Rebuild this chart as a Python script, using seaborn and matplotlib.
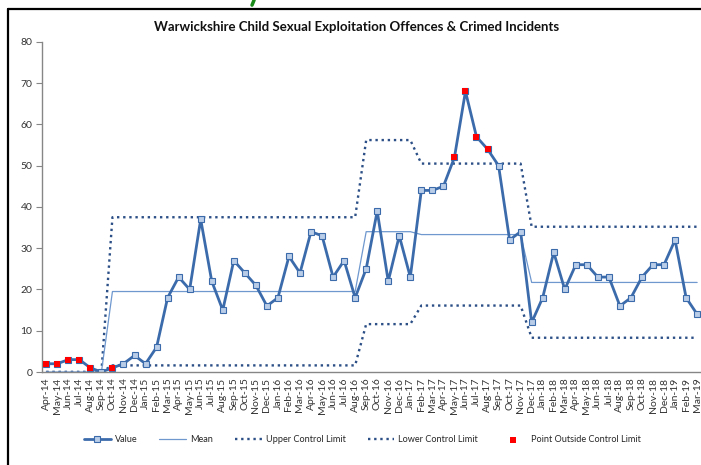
"""Warwickshire CSE offences - control chart."""

import matplotlib.pyplot as plt
import matplotlib.lines as mlines
import numpy as np
import pandas as pd
import seaborn as sns

sns.set_theme(style="white")
plt.rcParams["font.family"] = ["Lato", "Liberation Sans", "DejaVu Sans"]

MONTHS = ["Apr-14", "May-14", "Jun-14", "Jul-14", "Aug-14", "Sep-14",
          "Oct-14", "Nov-14", "Dec-14", "Jan-15", "Feb-15", "Mar-15",
          "Apr-15", "May-15", "Jun-15", "Jul-15", "Aug-15", "Sep-15",
          "Oct-15", "Nov-15", "Dec-15", "Jan-16", "Feb-16", "Mar-16",
          "Apr-16", "May-16", "Jun-16", "Jul-16", "Aug-16", "Sep-16",
          "Oct-16", "Nov-16", "Dec-16", "Jan-17", "Feb-17", "Mar-17",
          "Apr-17", "May-17", "Jun-17", "Jul-17", "Aug-17", "Sep-17",
          "Oct-17", "Nov-17", "Dec-17", "Jan-18", "Feb-18", "Mar-18",
          "Apr-18", "May-18", "Jun-18", "Jul-18", "Aug-18", "Sep-18",
          "Oct-18", "Nov-18", "Dec-18", "Jan-19", "Feb-19", "Mar-19"]
VALUES = [2, 2, 3, 3, 1, 0, 1, 2, 4, 2, 6, 18,
          23, 20, 37, 22, 15, 27, 24, 21, 16, 18, 28, 24,
          34, 33, 23, 27, 18, 25, 39, 22, 33, 23, 44, 44,
          45, 52, 68, 57, 54, 50, 32, 34, 12, 18, 29, 20,
          26, 26, 23, 23, 16, 18, 23, 26, 26, 32, 18, 14]
# step levels (month counts per level: 6, 23, 5, 10, 16)
MEAN = [0.0]*6 + [19.5]*23 + [34.0]*5 + [33.3]*10 + [21.7]*16
UCL = [0.0]*6 + [37.5]*23 + [56.2]*5 + [50.5]*10 + [35.2]*16
LCL = [0.0]*6 + [1.6]*23 + [11.6]*5 + [16.1]*10 + [8.3]*16

data = pd.DataFrame({"x": np.arange(len(MONTHS)), "Value": VALUES,
                     "Mean": MEAN, "UCL": UCL, "LCL": LCL})
outside = data[(data["Value"] > data["UCL"]) | (data["Value"] < data["LCL"])]

BLUE = "#3c6bab"
LIGHT = "#b9cde8"
MEAN_C = "#6f98cf"
LIMIT_C = "#2b4f86"
DOTS = (0, (1, 1.6))

fig = plt.figure(figsize=(7.01, 4.65), dpi=100)
ax = fig.add_axes([0.06, 0.2, 0.94, 0.71])

sns.lineplot(x="x", y="UCL", data=data, ax=ax, color=LIMIT_C, lw=1.7,
             linestyle=DOTS, label="Upper Control Limit")
sns.lineplot(x="x", y="LCL", data=data, ax=ax, color=LIMIT_C, lw=1.7,
             linestyle=DOTS, label="Lower Control Limit")
sns.lineplot(x="x", y="Mean", data=data, ax=ax, color=MEAN_C, lw=0.9,
             label="Mean")
sns.lineplot(x="x", y="Value", data=data, ax=ax, color=BLUE, lw=2,
             marker="s", markersize=4.8, markerfacecolor=LIGHT,
             markeredgecolor=BLUE, markeredgewidth=0.8, label="Value")
sns.scatterplot(x="x", y="Value", data=outside, ax=ax, color="#ff0000",
                marker="s", s=14, linewidth=0, zorder=5,
                label="Point Outside Control Limit")

ax.set_xlim(-0.38, 59.35)
ax.set_ylim(0, 80)
ax.set_yticks(range(0, 81, 10))
ax.set_xticks(data["x"])
ax.set_xticklabels(MONTHS, rotation=90, fontsize=7.5, color="#333333")
ax.tick_params(axis="y", labelsize=7.5, colors="#333333", length=4,
               width=0.8, left=True, pad=3)
ax.tick_params(axis="y", color="#868686")
ax.tick_params(axis="x", length=0, pad=4)
ax.set_xlabel("")
ax.set_ylabel("")
for side in ["top", "right"]:
    ax.spines[side].set_visible(False)
for side in ["left", "bottom"]:
    ax.spines[side].set_color("#868686")
    ax.spines[side].set_linewidth(1)

fig.text(0.509, 0.942, "Warwickshire Child Sexual Exploitation Offences & "
         "Crimed Incidents", ha="center", va="center", fontsize=9.5,
         fontweight="bold", color="#111111")

handles, labels = ax.get_legend_handles_labels()
order = ["Value", "Mean", "Upper Control Limit", "Lower Control Limit",
         "Point Outside Control Limit"]
hmap = dict(zip(labels, handles))
ax.legend([hmap[k] for k in order], order, loc="center",
          bbox_to_anchor=(0.517, 0.054), bbox_transform=fig.transFigure,
          ncol=5, frameon=False, fontsize=6.6, handlelength=2.9,
          columnspacing=2.4, handletextpad=0.45)

# outer chart frame (cropped at right and bottom)
fig.add_artist(mlines.Line2D([0.0107, 0.0107], [0, 0.981], color="black",
                             lw=1.6, transform=fig.transFigure))
fig.add_artist(mlines.Line2D([0.0107, 1], [0.981, 0.981], color="black",
                             lw=1.6, transform=fig.transFigure))
fig.add_artist(mlines.Line2D([0.3595, 0.3625], [0.989, 1.0], color="#1a8a1a",
                             lw=2.5, transform=fig.transFigure))

fig.savefig("out.png", dpi=100)
